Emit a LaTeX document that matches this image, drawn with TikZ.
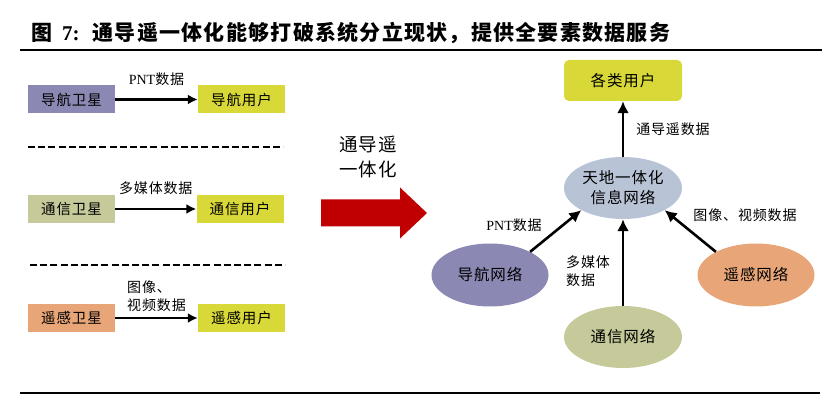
\documentclass[tikz,border=0pt]{standalone}
\usepackage{fontspec}
\setmainfont{Liberation Serif}
\newfontfamily\cjk[LetterSpace=6]{Noto Sans CJK SC}
\usetikzlibrary{arrows.meta, shapes.geometric}
\definecolor{navpurple}{RGB}{139,137,179}
\definecolor{comolive}{RGB}{198,202,154}
\definecolor{rsorange}{RGB}{232,166,120}
\definecolor{useryellow}{RGB}{216,216,56}
\definecolor{hubblue}{RGB}{184,195,214}
\definecolor{arrowred}{RGB}{192,0,0}

\begin{document}
\begin{tikzpicture}[
    x=1pt, y=-1pt, >={Latex[length=10pt, width=10pt]},
    satbox/.style={rectangle, minimum width=87pt, minimum height=28pt, inner sep=0pt, font=\cjk\fontsize{14.5}{16}\selectfont},
    netnode/.style={ellipse, minimum width=117pt, minimum height=63pt, inner sep=0pt, align=center, font=\cjk\fontsize{15.5}{20}\selectfont},
    lbl/.style={inner sep=0pt, align=left, font=\cjk\fontsize{14}{18}\selectfont},
    link/.style={->, line width=2.2pt},
    netlink/.style={->, line width=2.6pt, >={Latex[length=12pt, width=12pt]}},
    sepline/.style={line width=2.2pt, dash pattern=on 7pt off 3.2pt}
]
\useasboundingbox (0,0) rectangle (833,395);

\node (fig_title) [anchor=west, inner sep=0pt] at (31,33) {{\cjk\fontsize{21}{24}\selectfont\bfseries 图}\hspace{10pt}{\fontsize{21}{24}\selectfont\bfseries 7:}\hspace{13pt}{\cjk\fontsize{21}{24}\selectfont\bfseries 通导遥一体化能够打破系统分立现状，提供全要素数据服务}};
\coordinate (top_rule_l) at (20,50);
\coordinate (top_rule_r) at (822,50);
\coordinate (bottom_rule_l) at (20,393);
\coordinate (bottom_rule_r) at (820,393);
\draw[line width=2.4pt] (top_rule_l) -- (top_rule_r);
\draw[line width=2.4pt] (bottom_rule_l) -- (bottom_rule_r);

\node (nav_sat) [satbox, fill=navpurple] at (71.5,99.5) {导航卫星};
\node (nav_user) [satbox, fill=useryellow] at (241.5,99.5) {导航用户};
\node (com_sat) [satbox, fill=comolive] at (71.5,209) {通信卫星};
\node (com_user) [satbox, fill=useryellow] at (240,209) {通信用户};
\node (rs_sat) [satbox, fill=rsorange] at (71.5,318) {遥感卫星};
\node (rs_user) [satbox, fill=useryellow] at (241.5,318) {遥感用户};
\draw[link] (nav_sat) -- node[lbl, above=13pt] {{\rmfamily PNT}数据} (nav_user);
\draw[link] (com_sat) -- node[lbl, above=13pt] {多媒体数据} (com_user);
\draw[link] (rs_sat) -- node[lbl, above=5pt] {图像、\\视频数据} (rs_user);
\coordinate (sep_one_l) at (28,147);
\coordinate (sep_one_r) at (283,147);
\coordinate (sep_two_l) at (30,265);
\coordinate (sep_two_r) at (285,265);
\draw[sepline] (sep_one_l) -- (sep_one_r);
\draw[sepline] (sep_two_l) -- (sep_two_r);

\node (merge_text) [lbl, align=center, font=\cjk\fontsize{18.5}{25}\selectfont] at (368,157) {通导遥\\一体化};
\fill[arrowred] (321,199.5) -- (400,199.5) -- (400,187.5) -- (427,213) -- (400,238.5) -- (400,226.5) -- (321,226.5) -- cycle;

\node (all_user) [rectangle, rounded corners=5pt, fill=useryellow, minimum width=118pt, minimum height=41pt, font=\cjk\fontsize{15.5}{18}\selectfont] at (623,80.5) {各类用户};
\node (hub_net) [netnode, fill=hubblue, minimum width=118pt, minimum height=62pt] at (623,188) {天地一体化\\信息网络};
\node (nav_net) [netnode, fill=navpurple] at (490,275) {导航网络};
\node (com_net) [netnode, fill=comolive, minimum width=118pt, minimum height=62pt] at (623,337) {通信网络};
\node (rs_net) [netnode, fill=rsorange] at (756,275) {遥感网络};
\draw[netlink] (hub_net) -- node[lbl, right=12pt] {通导遥数据} (all_user);
\draw[netlink] (nav_net.30) -- (hub_net.208);
\draw[netlink] (com_net) -- (hub_net);
\draw[netlink] (rs_net.150) -- (hub_net.332);
\node (nav_data) [lbl] at (514,225) {{\rmfamily PNT}数据};
\node (com_data) [lbl, anchor=west] at (566,271) {多媒体\\数据};
\node (rs_data) [lbl] at (745,215) {图像、视频数据};
\end{tikzpicture}
\end{document}
